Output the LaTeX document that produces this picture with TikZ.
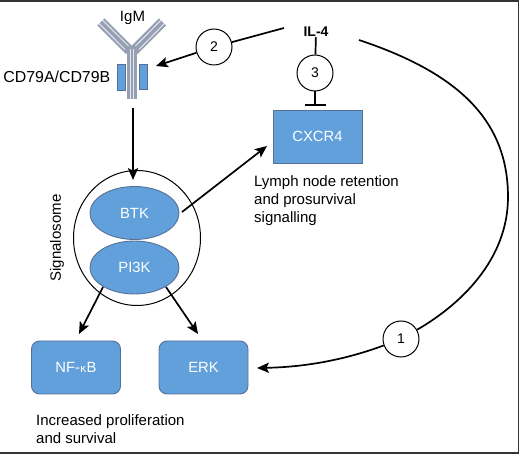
\documentclass[tikz,border=0pt]{standalone}
\usepackage{fontspec}
\setmainfont{Liberation Sans}
\newfontfamily\kappafont{DejaVu Sans}
\usetikzlibrary{arrows.meta,shapes.geometric}
\definecolor{cellblue}{RGB}{98,160,219}
\definecolor{celledge}{RGB}{88,112,150}
\definecolor{stemgray}{RGB}{150,160,178}
\definecolor{stemline}{RGB}{226,230,238}
\tikzset{
  link/.style={solid, line width=1.7pt, black},
  linkarrow/.style={link, -{Stealth[length=4.2mm,width=3.6mm,inset=0.9mm]}},
  stepnum/.style={circle, draw=black, line width=1pt, fill=white, minimum size=36pt, inner sep=0pt, font=\fontsize{14}{16}\selectfont},
  cellbox/.style={draw=celledge, line width=0.9pt, fill=cellblue, text=white, minimum width=89pt, minimum height=53pt, inner sep=0pt, font=\fontsize{14.8}{16}\selectfont},
  cellell/.style={ellipse, cellbox},
  caption/.style={font=\fontsize{15}{18}\selectfont, align=left, inner sep=0pt},
  igmband/.style={line width=10pt, stemgray},
  igmstripe/.style={line width=1pt, stemline}
}
\begin{document}
\begin{tikzpicture}[x=1pt, y=-1pt]
\useasboundingbox (0,0) rectangle (520,454);
\draw [line width=1.1pt, black!80] (0,1) -- (518.5,1) -- (518.5,453) -- (0,453);
\coordinate (igmtail) at (133,108);
\coordinate (il4in) at (284,28);
\coordinate (il4out) at (359,40);
\coordinate (cdtip) at (156,66);
\coordinate (signaltop) at (133,180);
\coordinate (nftip) at (79,334);
\coordinate (erktip) at (198,334);
\coordinate (btkout) at (182,212);
\coordinate (cxcrtip) at (267,146);
\coordinate (pi3kl) at (103,287);
\coordinate (pi3kr) at (166,287);
\coordinate (erkin) at (257,368);
\coordinate (barc) at (315,105);
\coordinate (barl) at (305,105);
\coordinate (barr) at (326,105);
\coordinate (arcside) at (508,197);
% antibody
\draw [igmband] (101,22) -- (129.5,50.5);
\draw [igmband] (162.5,22) -- (134,50.5);
\draw [igmband] (132,47) -- (132,99);
\draw [igmstripe] (102.7,20.3) -- (128.5,46);
\draw [igmstripe] (99.3,23.7) -- (125,49.5);
\draw [igmstripe] (160.8,20.3) -- (135.5,46);
\draw [igmstripe] (164.2,23.7) -- (139,49.5);
\draw [igmstripe] (130.3,49) -- (130.3,99);
\draw [igmstripe] (133.7,49) -- (133.7,99);
\draw [draw=celledge, fill=cellblue, line width=0.6pt] (117,64) rectangle (125,90);
\draw [draw=celledge, fill=cellblue, line width=0.6pt] (139,64) rectangle (147,89);
\node (igm) [caption] at (132.5,18) {IgM};
\node (cd79) [caption, font=\fontsize{15.9}{18}\selectfont, anchor=east] at (110.5,77) {CD79A/CD79B};
% signalosome
\node (signal) [ellipse, draw=black, line width=1pt, minimum width=127pt, minimum height=135pt, inner sep=0pt] at (137,238) {};
\node (btk) [cellell] at (134.5,213) {BTK};
\node (pi3k) [cellell] at (134.5,267.5) {PI3K};
\node (signaltxt) [caption, rotate=90] at (57,238) {Signalosome};
% boxes
\node (cxcr) [cellbox] at (317.5,136.5) {CXCR4};
\node (nfkb) [cellbox, rounded corners=8pt] at (76,367.5) {NF-{\kappafont\fontsize{11}{16}\selectfont κ}B};
\node (erk) [cellbox, rounded corners=8pt] at (203.5,367.5) {ERK};
\node (il4) [font=\fontsize{14}{16}\selectfont\bfseries, inner sep=0pt] at (316,32) {IL-4};
\node (two) [stepnum] at (214,47) {2};
\node (three) [stepnum] at (315,73) {3};
\node (one) [stepnum] at (401,339) {1};
\node (lymph) [caption, anchor=north west] at (254,175) {Lymph node retention\\and prosurvival\\signalling};
\node (incr) [caption, anchor=north west] at (36,414) {Increased proliferation\\and survival};
% connectors
\draw [link] (il4in) -- (two);
\draw [linkarrow] (two) -- (cdtip);
\draw [link] (il4) -- (three);
\draw [link] (three) -- (barc);
\draw [link] (barl) -- (barr);
\draw [linkarrow] (igmtail) -- (signaltop);
\draw [linkarrow] (btkout) -- (cxcrtip);
\draw [linkarrow] (pi3kl) -- (nftip);
\draw [linkarrow] (pi3kr) -- (erktip);
\draw [link] (il4out) .. controls (455,72) and (508,118) .. (arcside) .. controls (508,260) and (460,305) .. (one);
\draw [linkarrow] (one) .. controls (350,358) and (310,367) .. (erkin);
\end{tikzpicture}
\end{document}
